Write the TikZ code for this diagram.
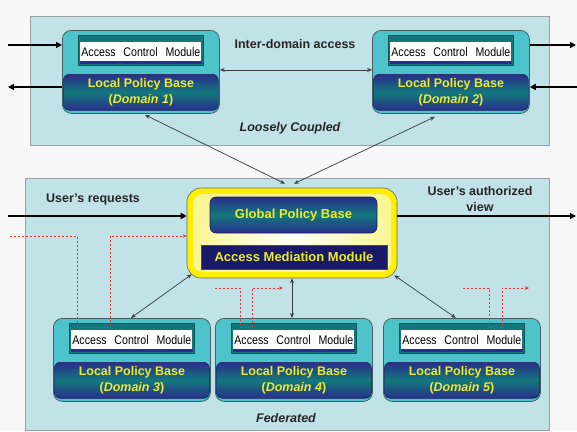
\documentclass[tikz,border=0pt]{standalone}
\usepackage{fontspec}
\setmainfont{Liberation Sans}
\usetikzlibrary{arrows.meta,calc}
\definecolor{bgc}{RGB}{248,248,248}
\definecolor{panelc}{RGB}{193,226,230}
\definecolor{panelline}{RGB}{150,160,165}
\definecolor{domc}{RGB}{78,196,202}
\definecolor{domline}{RGB}{70,95,100}
\definecolor{tealc}{RGB}{18,120,125}
\definecolor{navyc}{RGB}{42,46,140}
\definecolor{yelc}{RGB}{235,235,40}
\definecolor{ammc}{RGB}{25,25,105}
\definecolor{gyel}{RGB}{255,238,0}
\definecolor{redc}{RGB}{235,50,50}
\definecolor{linkc}{RGB}{55,60,65}
\newcommand\mkdomain[4]{%
  \node[dombox, anchor=north west] (#1) at (#2,#3) {};
  \node[acmframe, anchor=north] (#1f) at ([yshift=-5pt]#1.north) {};
  \node[acmtext, anchor=north] (#1acm) at ([yshift=-12pt]#1.north) {\scalebox{0.85}[1]{\makebox[140pt][s]{Access Control Module}}};
  \fill[navyc] (#1acm.south west) rectangle ([yshift=-3pt]#1acm.south east);
  \node[lpbbox, anchor=north] (#1lpb) at ([yshift=-44pt]#1.north) {Local Policy Base\\(\textit{Domain #4})};
}
\begin{document}
\begin{tikzpicture}[x=1pt,y=-1pt,
  panel/.style={fill=panelc, draw=panelline, line width=0.8pt},
  dombox/.style={rectangle, rounded corners=9pt, minimum width=157pt, minimum height=83pt, fill=domc, draw=domline, line width=0.8pt, inner sep=0pt},
  acmframe/.style={rectangle, minimum width=125pt, minimum height=30pt, fill=tealc, draw=tealc!70!black, line width=0.5pt, inner sep=0pt},
  acmtext/.style={rectangle, fill=white, minimum width=121pt, minimum height=19pt, inner sep=0pt, font=\fontsize{12.5}{14}\selectfont},
  lpbbox/.style={rectangle, rounded corners=6pt, minimum width=155pt, minimum height=36pt, top color=navyc, bottom color=navyc, middle color=tealc, draw=navyc!70!black, line width=0.6pt, text=yelc, font=\bfseries\fontsize{12.5}{16}\selectfont, align=center, inner sep=0pt},
  lbl/.style={font=\bfseries\fontsize{12.5}{15}\selectfont, text=black!85, align=center, inner sep=0pt},
  bigarrow/.style={line width=1.6pt, draw=black, -{Triangle[length=6pt,width=6pt]}},
  link/.style={draw=linkc, line width=0.7pt, {Stealth[length=5pt,width=4pt]}-{Stealth[length=5pt,width=4pt]}},
  reddash/.style={draw=redc, line width=0.7pt, dash pattern=on 2.2pt off 1.8pt, -{Stealth[length=4pt,width=3.5pt]}}
]
\useasboundingbox (0,0) rectangle (577,431);
\fill[bgc] (0,0) rectangle (577,431);
% panels
\draw[panel] (30,16) rectangle (549,145);
\draw[panel] (25,178) rectangle (549,430);
% domains
\mkdomain{D1}{62}{30}{1}
\mkdomain{D2}{372}{30}{2}
\mkdomain{D3}{53}{318}{3}
\mkdomain{D4}{215}{318}{4}
\mkdomain{D5}{383}{318}{5}
% global box
\node[rectangle, rounded corners=14pt, minimum width=210pt, minimum height=90pt, fill=gyel, draw=gray!80!black, line width=0.6pt] (G) at (292,233) {};
\node[rectangle, rounded corners=10pt, minimum width=198pt, minimum height=78pt, inner color=white, outer color={rgb,255:red,250;green,246;blue,150}] (Gin) at (292,233) {};
\node[rectangle, rounded corners=6pt, minimum width=167pt, minimum height=36pt, top color=navyc, bottom color=navyc, middle color=tealc, draw=navyc!70!black, line width=0.6pt, text=yelc, font=\bfseries\fontsize{13}{15}\selectfont, inner sep=0pt] (GPB) at (293.5,215) {Global Policy Base};
\node[rectangle, minimum width=186pt, minimum height=24pt, fill=ammc, draw=black!70, line width=0.6pt, text=yelc, font=\bfseries\fontsize{13}{15}\selectfont, inner sep=0pt] (AMM) at (294,257) {Access Mediation Module};
% labels
\node[lbl] (t1) at (295,44) {Inter-domain access};
\node[lbl, font=\bfseries\itshape\fontsize{12.5}{15}\selectfont] (t2) at (290,128) {Loosely Coupled};
\node[lbl] (t3) at (93,199) {User's requests};
\node[lbl, font=\bfseries\fontsize{12.5}{16}\selectfont] (t4) at (480,199) {User's authorized\\view};
\node[lbl, font=\bfseries\itshape\fontsize{12.5}{15}\selectfont] (t5) at (286,418) {Federated};
% outer arrows
\coordinate (L1i) at (8,45);
\coordinate (L1o) at (8,87);
\coordinate (R2o) at (576,45);
\coordinate (R2i) at (577,87);
\coordinate (Lu) at (8,216);
\coordinate (Ru) at (576,216);
\draw[bigarrow] (L1i) -- (L1i -| D1.west);
\draw[bigarrow] (D1.west |- L1o) -- (L1o);
\draw[bigarrow] (D2.east |- R2o) -- (R2o);
\draw[bigarrow] (R2i) -- (R2i -| D2.east);
\draw[bigarrow] (Lu) -- (Lu -| G.west);
\draw[bigarrow] (G.east |- Ru) -- (Ru);
% links
\draw[link] ([yshift=2pt]D1.east) -- ([yshift=2pt]D2.west);
\draw[link] ([shift={(4pt,-1pt)}]D1.south) -- ([shift={(-7pt,4pt)}]G.north);
\draw[link] ([shift={(-16pt,-3pt)}]D2.south) -- ([shift={(2pt,4pt)}]G.north);
\draw[link] ([shift={(5pt,4pt)}]G.south west) -- ([xshift=-1pt]D3.north);
\draw[link] (G.south) -- (G.south |- D4.north);
\draw[link] ([shift={(-3pt,3pt)}]G.south east) -- ([xshift=-6pt]D5.north);
% red dashed flows
\coordinate (R3s) at (10,236);
\coordinate (R4s) at (215,288);
\coordinate (R4e) at (283,288);
\coordinate (R5s) at (463,288);
\coordinate (R5e) at (529,288);
\draw[reddash] (R3s) -| ([shift={(8pt,-4pt)}]D3f.north west) -- ([shift={(41pt,-4pt)}]D3f.north west) |- (R3s -| G.west);
\draw[reddash] (R4s) -| ([shift={(9pt,-4pt)}]D4f.north west) -- ([shift={(21pt,-4pt)}]D4f.north west) |- (R4e);
\draw[reddash] (R5s) -| ([shift={(90pt,-4pt)}]D5f.north west) -- ([shift={(103pt,-4pt)}]D5f.north west) |- (R5e);
\end{tikzpicture}
\end{document}
